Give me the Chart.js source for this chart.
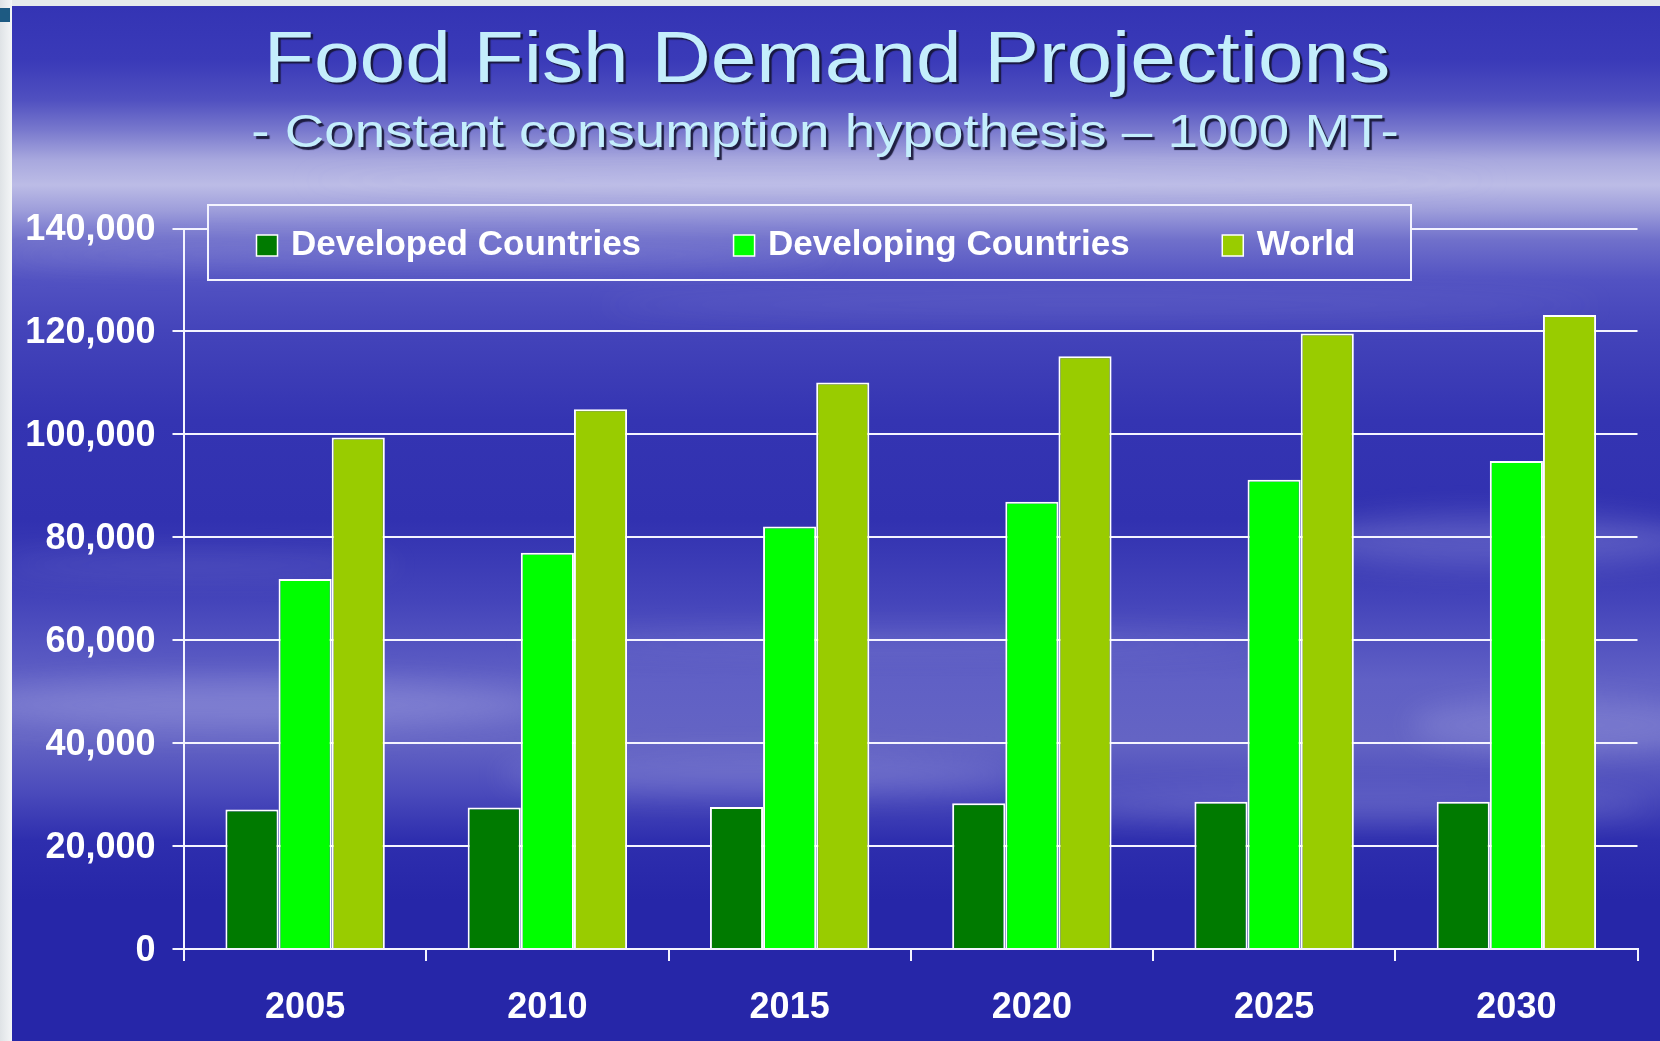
<!DOCTYPE html>
<html>
<head>
<meta charset="utf-8">
<script src="https://cdn.jsdelivr.net/npm/chart.js@4/dist/chart.umd.min.js"></script>
<style>
html,body{margin:0;padding:0;background:#e6eaee;overflow:hidden}
canvas{display:block}
</style>
</head>
<body>
<canvas id="c" width="1660" height="1041"></canvas>
<script>
// ---- data ----
const categories = ['2005', '2010', '2015', '2020', '2025', '2030'];
const developedCountries = [27100, 27500, 27600, 28300, 28600, 28600];
const developingCountries = [71900, 77000, 82100, 86900, 91200, 94800];
const world = [99400, 104900, 110100, 115200, 119600, 123200];
const seriesNames = ['Developed Countries', 'Developing Countries', 'World'];
const titleText = 'Food Fish Demand Projections';
const subtitleText = '- Constant consumption hypothesis \u2013 1000 MT-';
const yMin = 0, yMax = 140000, yStep = 20000;

const FONT = "'Liberation Sans', Arial, Helvetica, sans-serif";

function bgGradient(ctx) {
  const g = ctx.createLinearGradient(0, 6, 0, 1041);
  const stops = [
    [6, '#3434b4'], [60, '#3a3ab8'], [100, '#5050c0'], [130, '#7878cd'],
    [160, '#a8a8de'], [185, '#bcbce6'], [210, '#9e9edb'], [240, '#7070cb'],
    [280, '#5252c2'], [330, '#4444ba'], [420, '#3434b2'], [520, '#3131b0'],
    [600, '#4444ba'], [680, '#6060c5'], [740, '#6464c4'], [790, '#4c4cbc'],
    [840, '#2e2eae'], [900, '#2626a8'], [1041, '#2626a8']
  ];
  stops.forEach(([y, c]) => g.addColorStop((y - 6) / 1035, c));
  return g;
}

function drawBackground(ctx, w, h) {
  ctx.fillStyle = '#e6eaec';
  ctx.fillRect(0, 0, w, h);
  const lg = ctx.createLinearGradient(0, 0, 12, 0);
  lg.addColorStop(0, '#dfe3e6'); lg.addColorStop(1, '#f4f6f7');
  ctx.fillStyle = lg; ctx.fillRect(0, 0, 12, h);
  ctx.fillStyle = bgGradient(ctx);
  ctx.fillRect(12, 6, w - 12, h - 6);
  // soft cloud streaks
  ctx.save();
  ctx.beginPath(); ctx.rect(12, 6, w - 12, h - 6); ctx.clip();
  ctx.filter = 'blur(14px)';
  const streaks = [
    [250, 705, 300, 24, 0.22], [760, 775, 260, 20, 0.18], [1500, 540, 200, 26, 0.20],
    [1350, 805, 300, 18, 0.16], [420, 255, 420, 10, 0.14], [1100, 305, 500, 9, 0.12],
    [900, 645, 380, 12, 0.12], [200, 565, 200, 10, 0.12], [1560, 725, 150, 28, 0.16],
    [900, 180, 600, 8, 0.10]
  ];
  streaks.forEach(([x, y, rx, ry, a]) => {
    ctx.fillStyle = 'rgba(230,230,255,' + a + ')';
    ctx.beginPath(); ctx.ellipse(x, y, rx, ry, 0, 0, Math.PI * 2); ctx.fill();
  });
  ctx.restore();
  ctx.fillStyle = '#1d5a82';
  ctx.fillRect(0, 8, 10, 14);
}

const backgroundPlugin = {
  id: 'bg',
  beforeDraw(chart) {
    const ctx = chart.ctx;
    ctx.save();
    drawBackground(ctx, chart.width, chart.height);
    ctx.restore();
  }
};

// title shadow + horizontal stretch (the original slide text is widened)
const titleStylePlugin = {
  id: 'titleStyle',
  afterLayout(chart) {
    chart.boxes.forEach(b => {
      if (!b || !b.options || typeof b.options.text !== 'string' || b._styled) return;
      b._styled = true;
      const orig = b.draw.bind(b);
      const isMain = b.options.text === titleText;
      b.draw = function () {
        const ctx = this.ctx;
        const cx = (this.left + this.right) / 2;
        const targetX = isMain ? 827 : 825;
        const sx = isMain ? 1.124 : 1.165;
        ctx.save();
        ctx.translate(targetX, 0);
        ctx.scale(sx, 1);
        ctx.translate(-cx, 0);
        ctx.shadowColor = 'rgba(20,20,50,0.9)';
        ctx.shadowOffsetX = 2.5;
        ctx.shadowOffsetY = 2.5;
        ctx.shadowBlur = 1;
        orig();
        ctx.restore();
      };
    });
  }
};

const boxLegendPlugin = {
  id: 'boxLegend',
  afterDraw(chart) {
    const ctx = chart.ctx;
    const ca = chart.chartArea;
    const bx = ca.left + 24, by = ca.top - 23.5, bw = 1203, bh = 75;
    ctx.save();
    ctx.beginPath(); ctx.rect(bx, by, bw, bh); ctx.clip();
    drawBackground(ctx, chart.width, chart.height);
    ctx.restore();
    ctx.save();
    ctx.strokeStyle = '#f4f4ff';
    ctx.lineWidth = 2;
    ctx.strokeRect(bx, by, bw, bh);
    ctx.font = 'bold 35px ' + FONT;
    ctx.textBaseline = 'middle';
    ctx.textAlign = 'left';
    const cy = by + 40.5;
    let x = bx + 48.5;
    chart.data.datasets.forEach(ds => {
      ctx.fillStyle = ds.backgroundColor;
      ctx.fillRect(x, cy - 10.5, 21, 21);
      ctx.strokeStyle = '#ffffff';
      ctx.lineWidth = 1.5;
      ctx.strokeRect(x, cy - 10.5, 21, 21);
      x += 21 + 13.5;
      ctx.fillStyle = '#ffffff';
      ctx.fillText(ds.label, x, cy);
      x += ctx.measureText(ds.label).width + 92.5;
    });
    ctx.restore();
  }
};

const tickFont = { family: FONT, size: 36, weight: 'bold' };

new Chart(document.getElementById('c'), {
  type: 'bar',
  data: {
    labels: categories,
    datasets: [
      { label: seriesNames[0], data: developedCountries, backgroundColor: '#007a00' },
      { label: seriesNames[1], data: developingCountries, backgroundColor: '#00ff00' },
      { label: seriesNames[2], data: world, backgroundColor: '#99cc00' }
    ]
  },
  options: {
    responsive: false,
    animation: false,
    devicePixelRatio: 1,
    layout: { padding: { left: 0, right: 22.5, top: 0, bottom: 0 } },
    datasets: {
      bar: { categoryPercentage: 0.658, barPercentage: 1, borderColor: '#ffffff', borderWidth: 2 }
    },
    plugins: {
      legend: { display: false },
      tooltip: { enabled: false },
      title: {
        display: true, text: titleText, color: '#c4eefc',
        font: { family: FONT, size: 73, weight: 'normal', lineHeight: 1 },
        padding: { top: 25, bottom: 0 }
      },
      subtitle: {
        display: true, text: subtitleText, color: '#c4eefc',
        font: { family: FONT, size: 47, weight: 'normal', lineHeight: 1 },
        padding: { top: 13, bottom: 70.5 }
      }
    },
    scales: {
      x: {
        grid: {
          offset: true,
          drawOnChartArea: true,
          color: c => c.index === categories.length ? '#f4f4ff' : 'rgba(0,0,0,0)',
          tickColor: '#f4f4ff',
          tickLength: 12,
          lineWidth: 2
        },
        border: { display: true, color: '#f4f4ff', width: 2 },
        ticks: { color: '#ffffff', font: tickFont, padding: 25, maxRotation: 0 },
        afterFit: s => { s.height = 92; }
      },
      y: {
        min: yMin, max: yMax,
        ticks: {
          stepSize: yStep, color: '#ffffff', font: tickFont, padding: 17, labelOffset: 2,
          callback: v => v.toLocaleString('en-US')
        },
        grid: { color: '#f4f4ff', lineWidth: 2, tickLength: 11.5 },
        border: { display: true, color: '#f4f4ff', width: 2 },
        afterFit: s => { s.width = 184; }
      }
    }
  },
  plugins: [backgroundPlugin, titleStylePlugin, boxLegendPlugin]
});
</script>
</body>
</html>
